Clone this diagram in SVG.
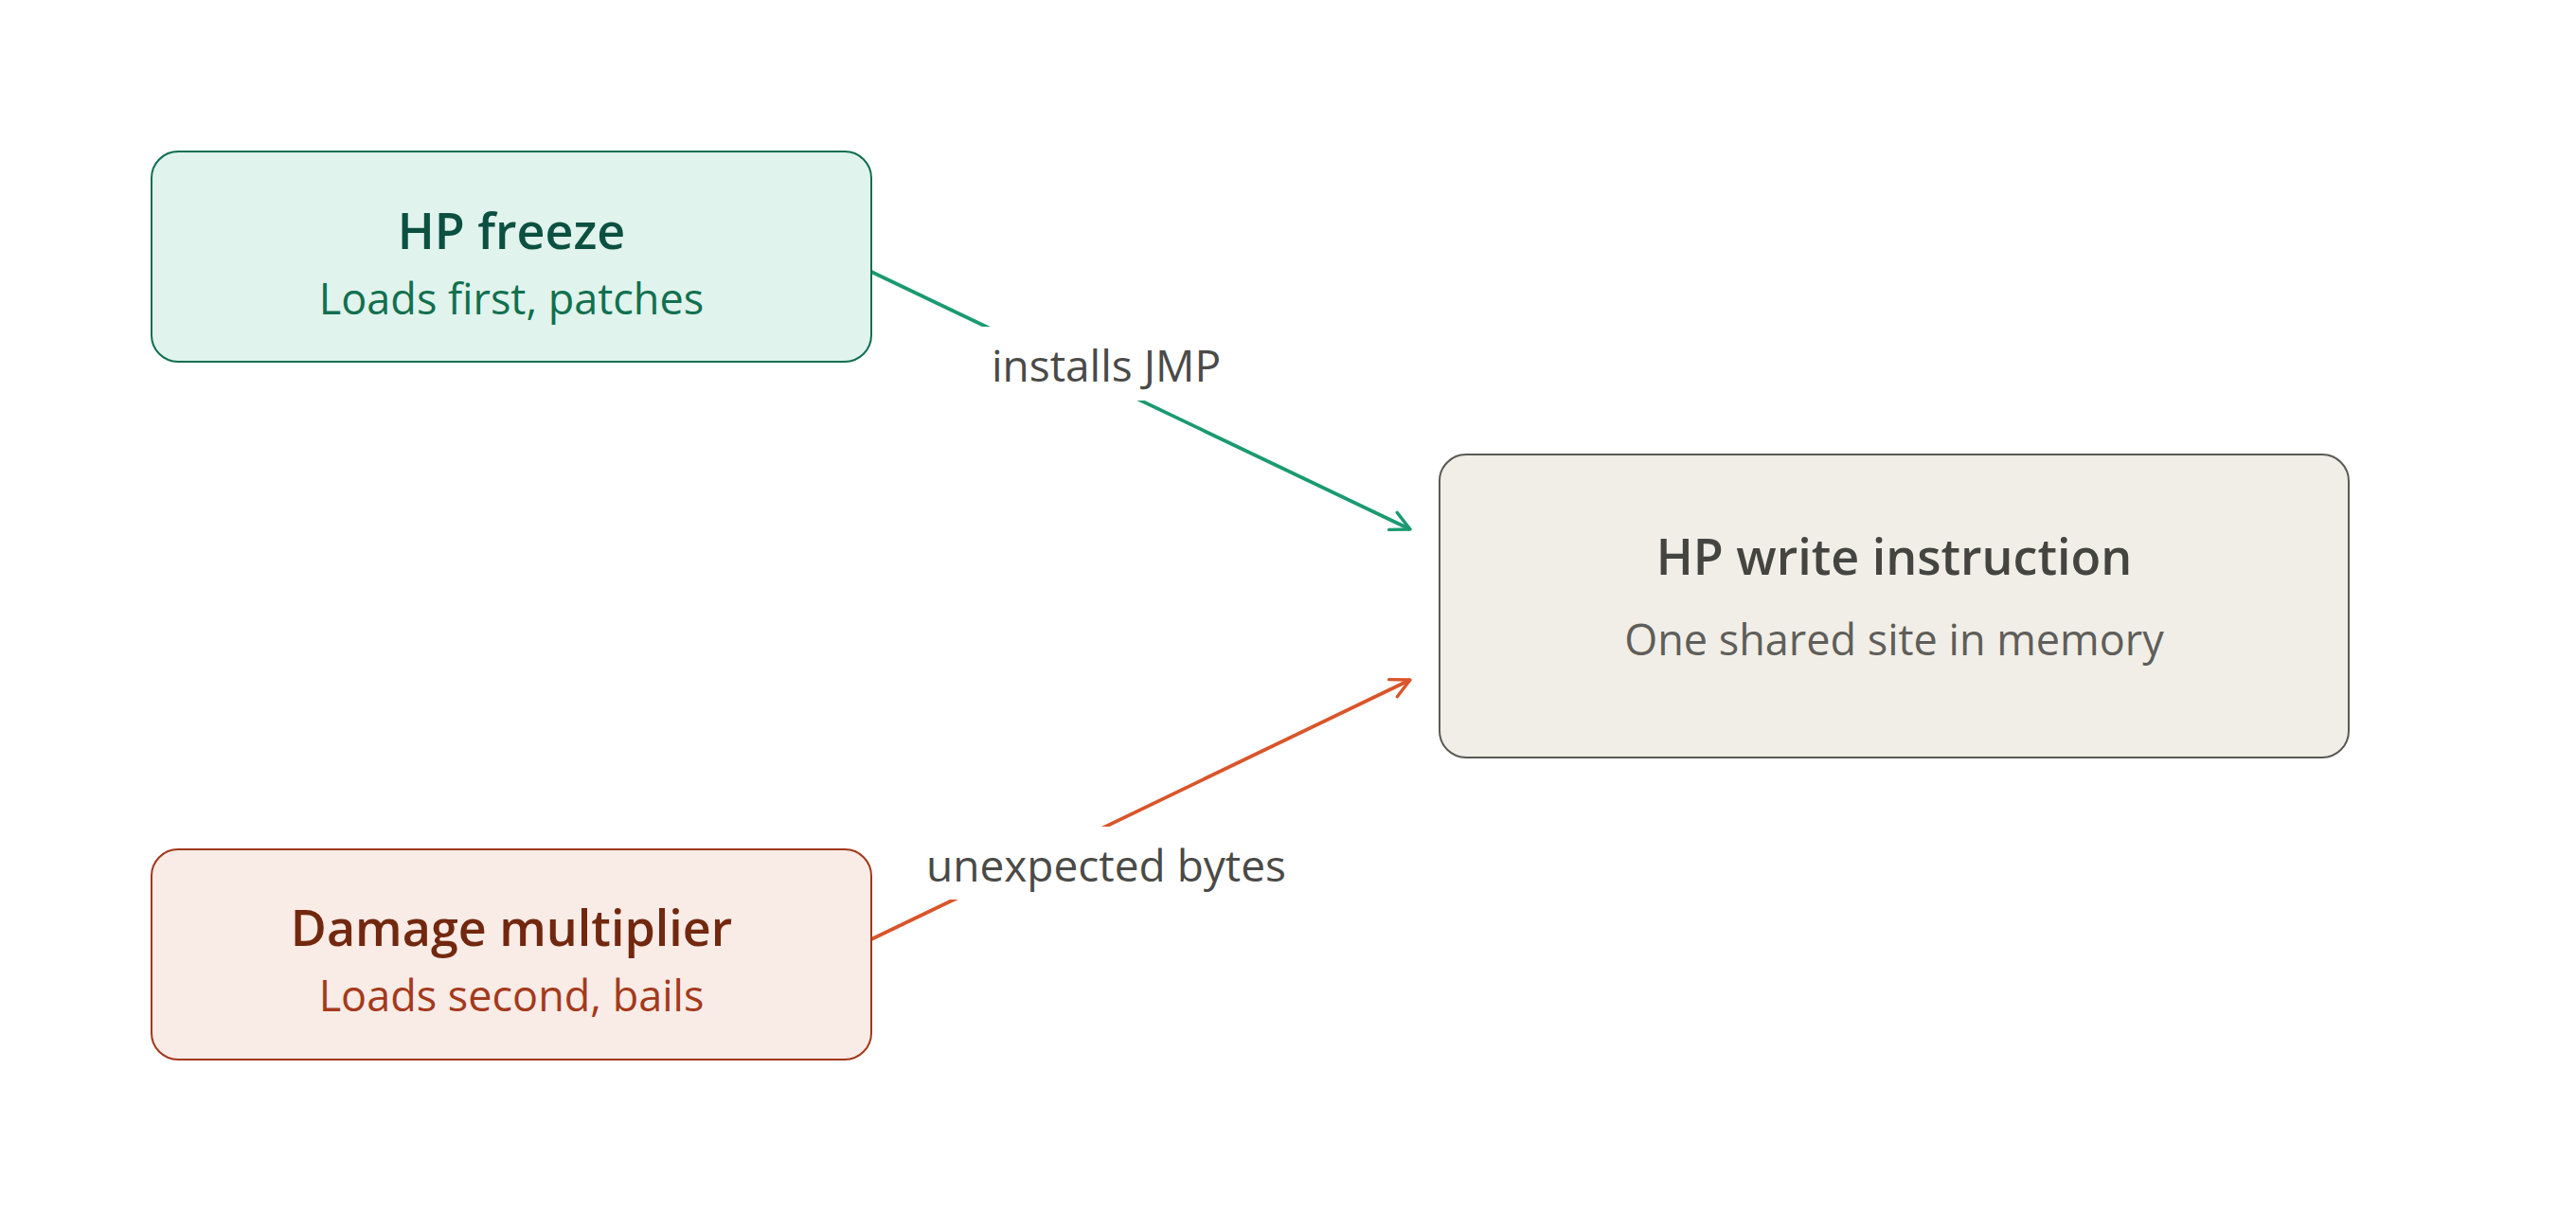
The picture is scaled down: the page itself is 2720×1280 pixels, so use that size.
<svg xmlns="http://www.w3.org/2000/svg" width="2720" height="1280" viewBox="0 0 2720 1280">
<defs>
<style>
text{font-family:"Open Sans","Noto Sans","Liberation Sans",sans-serif;text-anchor:middle}
.t{font-size:52px;font-weight:600}
.s{font-size:45px;font-weight:400}
.lbl{font-size:46px;fill:#4a4a47}
.edge{fill:none;stroke-width:3.8}
</style>
<marker id="ag" viewBox="0 0 12 12" refX="11" refY="6" markerWidth="24" markerHeight="24" markerUnits="userSpaceOnUse" orient="auto"><path d="M1,1 L11,6 L1,11" fill="none" stroke="#1a9a70" stroke-width="1.7" stroke-linecap="round" stroke-linejoin="round"/></marker>
<marker id="ao" viewBox="0 0 12 12" refX="11" refY="6" markerWidth="24" markerHeight="24" markerUnits="userSpaceOnUse" orient="auto"><path d="M1,1 L11,6 L1,11" fill="none" stroke="#d9552a" stroke-width="1.7" stroke-linecap="round" stroke-linejoin="round"/></marker>
</defs>
<rect width="2720" height="1280" fill="#ffffff"/>
<g id="connectors">
<line class="edge" x1="920" y1="287" x2="1489" y2="559" stroke="#1a9a70" marker-end="url(#ag)"/>
<line class="edge" x1="920" y1="992" x2="1489" y2="718" stroke="#d9552a" marker-end="url(#ao)"/>
<rect x="1035" y="345" width="265" height="78" fill="#ffffff"/>
<text class="lbl" x="1168" y="403">installs JMP</text>
<rect x="975" y="873" width="385" height="77" fill="#ffffff"/>
<text class="lbl" x="1168" y="931">unexpected bytes</text>
</g>
<g id="hp-freeze">
<rect x="160" y="160" width="760" height="222" rx="28" fill="#e0f3ec" stroke="#0f6e50" stroke-width="2"/>
<text class="t" x="540" y="263" fill="#0b5040">HP freeze</text>
<text class="s" x="540" y="332" fill="#11704f">Loads first, patches</text>
</g>
<g id="hp-write">
<rect x="1520" y="480" width="960" height="320" rx="28" fill="#f1eee7" stroke="#5a5a55" stroke-width="2"/>
<text class="t" x="2000" y="607" fill="#444441">HP write instruction</text>
<text class="s" x="2000" y="692" fill="#5f5e5a">One shared site in memory</text>
</g>
<g id="damage-multiplier">
<rect x="160" y="897" width="760" height="222" rx="28" fill="#f9ebe6" stroke="#a0391b" stroke-width="2"/>
<text class="t" x="540" y="999" fill="#72280f">Damage multiplier</text>
<text class="s" x="540" y="1068" fill="#a33a1c">Loads second, bails</text>
</g>
</svg>
